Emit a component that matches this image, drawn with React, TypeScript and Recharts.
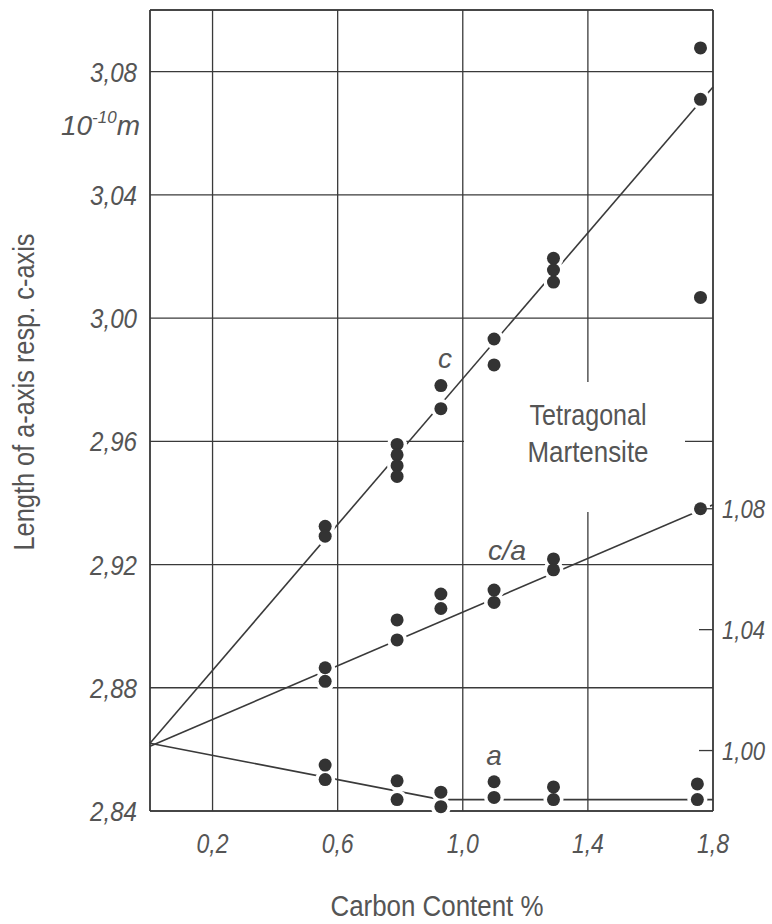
import { ComposedChart, Line, Scatter, XAxis, YAxis, CartesianGrid, ReferenceLine } from 'recharts';

// axis ticks
const carbonTicks = [0.2, 0.6, 1.0, 1.4, 1.8];
const lengthTicks = [2.84, 2.88, 2.92, 2.96, 3.0, 3.04, 3.08];
const ratioTicks = [1.0, 1.04, 1.08];

// measured points: [carbon %, value]
const cAxisPoints: [number, number][] = [
  [0.56, 2.9324], [0.56, 2.9292],
  [0.79, 2.959], [0.79, 2.9556], [0.79, 2.9521], [0.79, 2.9486],
  [0.93, 2.9781], [0.93, 2.9706],
  [1.1, 2.9932], [1.1, 2.9848],
  [1.29, 3.0194], [1.29, 3.0156], [1.29, 3.0117],
  [1.76, 3.0877], [1.76, 3.071], [1.76, 3.0067],
];
const aAxisPoints: [number, number][] = [
  [0.56, 2.8549], [0.56, 2.8502],
  [0.79, 2.8498], [0.79, 2.8437],
  [0.93, 2.8461], [0.93, 2.8414],
  [1.1, 2.8495], [1.1, 2.8444],
  [1.29, 2.8478], [1.29, 2.8437],
  [1.75, 2.8488], [1.75, 2.8437],
];
const ratioPoints: [number, number][] = [
  [0.56, 1.0274], [0.56, 1.0229],
  [0.79, 1.0432], [0.79, 1.0366],
  [0.93, 1.0518], [0.93, 1.047],
  [1.1, 1.0531], [1.1, 1.049],
  [1.29, 1.0634], [1.29, 1.0598],
  [1.76, 1.08],
];

// drawn fit lines
const cFit: [number, number][] = [[0, 2.862], [1.8, 3.075]];
const aFit: [number, number][] = [[0, 2.862], [0.93, 2.8437], [1.8, 2.8437]];
const ratioFit: [number, number][] = [[0, 1.0014], [1.8, 1.0813]];

const toXY = (arr: [number, number][]) => arr.map(([x, y]) => ({ x, y }));

const INK = '#3a3a3a';
const TEXT = '#555';
const SANS = "'Liberation Sans', Arial, sans-serif";

const comma = (v: number, d: number) => v.toFixed(d).replace('.', ',');

// narrow italic look: squeeze glyphs with textLength
const tickText = { fontFamily: SANS, fontStyle: 'italic', fontSize: 28, fill: TEXT } as const;

function LeftTick({ x, y, payload }: any) {
  return (
    <text x={x} y={y} dy={10} textAnchor="end" style={tickText} textLength={47} lengthAdjust="spacingAndGlyphs">
      {comma(payload.value, 2)}
    </text>
  );
}

function RightTick({ x, y, payload }: any) {
  return (
    <g>
      <line x1={x - 23} x2={x - 9} y1={y} y2={y} stroke={INK} strokeWidth={1.3} />
      <text x={x} y={y} dy={9} textAnchor="start" style={{ ...tickText, fontSize: 25 }} textLength={43} lengthAdjust="spacingAndGlyphs">
        {comma(payload.value, 2)}
      </text>
    </g>
  );
}

function BottomTick({ x, y, payload }: any) {
  if (payload.value === 0) return null;
  return (
    <text x={x} y={y} dy={42} textAnchor="middle" style={tickText} textLength={32} lengthAdjust="spacingAndGlyphs">
      {comma(payload.value, 1)}
    </text>
  );
}

const Halo = (p: any) => <circle cx={p.cx} cy={p.cy} r={10} fill="#fff" />;
const Dot = (p: any) => <circle cx={p.cx} cy={p.cy} r={6.5} fill="#333" />;

export default function App() {
  const series = [
    { key: 'c', data: toXY(cAxisPoints), axis: 'left' },
    { key: 'a', data: toXY(aAxisPoints), axis: 'left' },
    { key: 'ca', data: toXY(ratioPoints), axis: 'right' },
  ];
  return (
    <div style={{ position: 'absolute', left: 0, top: 0, width: 772, height: 924, background: '#fff' }}>
      <ComposedChart width={772} height={924} margin={{ top: 10, right: 0, bottom: 0, left: 0 }}>
        <CartesianGrid yAxisId="left" stroke={INK} strokeWidth={1.3} />
        <XAxis
          type="number"
          dataKey="x"
          domain={[0, 1.8]}
          ticks={carbonTicks}
          interval={0}
          height={113}
          tickSize={0}
          tickMargin={0}
          axisLine={{ stroke: INK, strokeWidth: 1.5 }}
          tickLine={false}
          tick={<BottomTick />}
        />
        <YAxis
          yAxisId="left"
          type="number"
          dataKey="y"
          domain={[2.84, 3.1]}
          ticks={lengthTicks}
          interval={0}
          width={150}
          tickSize={0}
          tickMargin={13}
          axisLine={{ stroke: INK, strokeWidth: 1.5 }}
          tickLine={false}
          tick={<LeftTick />}
        />
        <YAxis
          yAxisId="right"
          orientation="right"
          type="number"
          dataKey="y"
          domain={[0.98, 1.245]}
          ticks={ratioTicks}
          interval={0}
          width={59}
          tickSize={0}
          tickMargin={9}
          axisLine={{ stroke: INK, strokeWidth: 1.5 }}
          tickLine={false}
          tick={<RightTick />}
        />
        <ReferenceLine yAxisId="left" y={3.1} stroke={INK} strokeWidth={1.5} />

        <Line yAxisId="left" data={toXY(cFit)} dataKey="y" type="linear" stroke={INK} strokeWidth={1.6} dot={false} isAnimationActive={false} />
        <Line yAxisId="left" data={toXY(aFit)} dataKey="y" type="linear" stroke={INK} strokeWidth={1.6} dot={false} isAnimationActive={false} />
        <Line yAxisId="right" data={toXY(ratioFit)} dataKey="y" type="linear" stroke={INK} strokeWidth={1.6} dot={false} isAnimationActive={false} />

        {series.map((s) => (
          <Scatter key={`halo-${s.key}`} yAxisId={s.axis} data={s.data} dataKey="y" shape={Halo} isAnimationActive={false} />
        ))}
        {series.map((s) => (
          <Scatter key={`dot-${s.key}`} yAxisId={s.axis} data={s.data} dataKey="y" shape={Dot} isAnimationActive={false} />
        ))}
      </ComposedChart>

      <svg width={772} height={924} style={{ position: 'absolute', left: 0, top: 0, pointerEvents: 'none' }}>
        <rect x={464} y={382} width={221} height={130} fill="#fff" />
        <g style={{ fontFamily: SANS, fontSize: 30, fill: TEXT }}>
          <text x={588} y={425} textAnchor="middle" textLength={117} lengthAdjust="spacingAndGlyphs">Tetragonal</text>
          <text x={588} y={462} textAnchor="middle" textLength={121} lengthAdjust="spacingAndGlyphs">Martensite</text>
          <text x={437} y={916} textAnchor="middle" textLength={213} lengthAdjust="spacingAndGlyphs">Carbon Content %</text>
          <text transform="translate(34, 392) rotate(-90)" textAnchor="middle" textLength={317} lengthAdjust="spacingAndGlyphs">
            Length of a-axis resp. c-axis
          </text>
        </g>
        <g style={tickText}>
          <text x={445} y={368} textAnchor="middle">c</text>
          <text x={507} y={560} textAnchor="middle" textLength={38} lengthAdjust="spacingAndGlyphs">c/a</text>
          <text x={494} y={765} textAnchor="middle">a</text>
          <text x={140} y={135} textAnchor="end">
            10<tspan dy={-12} fontSize={17}>-10</tspan>
            <tspan dy={12}>m</tspan>
          </text>
        </g>
      </svg>
    </div>
  );
}
